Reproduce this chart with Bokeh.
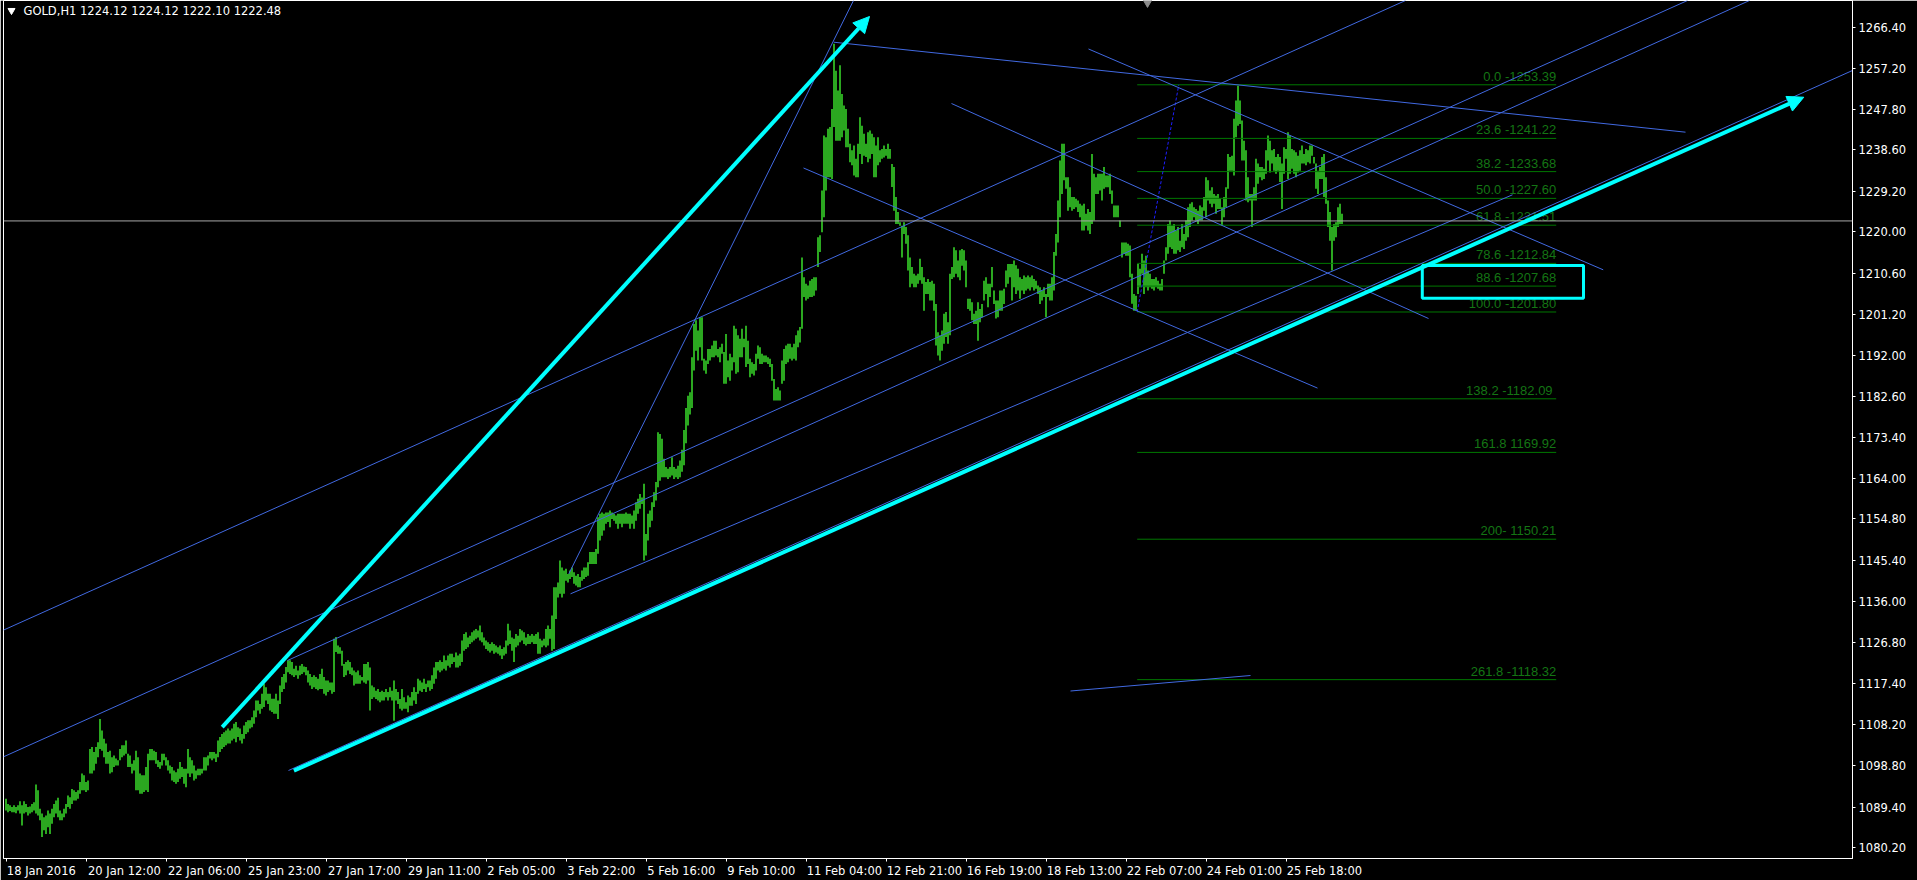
from bokeh.plotting import figure
from bokeh.models import (Range1d, FixedTicker, LinearAxis, Span, Arrow, NormalHead,
                          ColumnDataSource, NumeralTickFormatter)
from bokeh.embed import file_html
from bokeh.resources import INLINE
from bokeh.core.properties import value

# ---------------- data (GOLD, H1 bars: high / low) ----------------
highs = [
1091.3,1090.1,1089.8,1089.4,1089.8,1089.4,1089.8,1090.7,1089.8,1090.7,1090.1,1089.4,1089.5,1090.1,1090.5,1094.5,1093.2,1089.0,1087.9,1087.1,
1087.5,1088.6,1087.9,1089.0,1090.1,1090.9,1091.5,1088.6,1087.9,1089.0,1090.1,1092.0,1091.6,1093.5,1093.2,1092.8,1093.2,1095.1,1097.0,1096.6,
1095.1,1095.4,1102.6,1103.0,1101.9,1103.0,1104.1,1109.4,1106.8,1104.9,1103.8,1101.9,1102.2,1100.7,1101.1,1100.4,1100.0,1102.6,1103.4,1103.4,
1104.5,1101.5,1101.1,1099.2,1100.0,1102.2,1100.7,1097.0,1096.6,1096.6,1098.5,1101.5,1102.6,1102.6,1102.2,1101.9,1100.0,1099.6,1101.5,1101.5,
1100.7,1100.0,1098.8,1098.5,1097.7,1097.3,1098.1,1099.6,1098.5,1098.1,1098.1,1102.6,1100.7,1100.0,1098.8,1097.7,1098.1,1098.1,1098.1,1100.7,
1100.7,1101.1,1101.9,1101.9,1101.9,1101.5,1104.5,1105.3,1106.0,1106.4,1106.8,1107.2,1106.8,1107.2,1108.3,1108.7,1107.5,1107.2,1106.0,1107.9,
1108.7,1109.1,1109.1,1109.8,1111.3,1113.6,1113.6,1112.8,1115.1,1117.4,1116.6,1115.1,1115.1,1114.0,1114.0,1115.1,1113.6,1117.0,1118.9,1119.6,
1121.2,1122.7,1122.7,1122.3,1120.8,1121.5,1120.4,1121.5,1121.9,1121.3,1121.2,1120.4,1119.6,1118.9,1119.3,1118.9,1118.5,1119.6,1120.8,1118.9,
1118.1,1118.1,1117.7,1117.7,1127.6,1128.0,1126.1,1125.7,1124.9,1121.9,1122.3,1122.7,1122.3,1121.1,1120.4,1120.0,1120.4,1119.3,1118.9,1121.9,
1121.9,1122.3,1121.1,1117.0,1116.6,1115.8,1116.2,1115.5,1115.8,1115.5,1116.2,1115.5,1116.6,1115.8,1118.1,1116.2,1115.5,1113.9,1116.2,1114.3,
1113.2,1114.7,1114.3,1115.5,1116.6,1115.5,1118.5,1118.1,1117.7,1118.5,1117.4,1118.1,1118.1,1119.3,1121.1,1122.3,1122.3,1122.7,1122.3,1123.8,
1122.7,1123.8,1124.2,1124.2,1123.4,1124.5,1123.8,1124.2,1127.2,1128.7,1129.1,1127.9,1128.3,1129.1,1129.5,1129.8,1129.5,1130.6,1129.1,1127.9,
1127.2,1126.8,1126.4,1126.8,1126.4,1126.1,1125.7,1126.1,1125.3,1125.7,1127.2,1131.0,1129.5,1127.9,1127.6,1128.7,1128.3,1129.8,1129.5,1129.1,
1127.9,1128.7,1128.3,1128.7,1128.3,1128.7,1129.1,1127.6,1127.2,1127.6,1129.8,1130.6,1129.8,1132.9,1139.3,1139.3,1140.4,1145.4,1143.8,1143.1,
1143.5,1142.3,1143.1,1143.8,1142.7,1141.9,1142.3,1141.6,1143.1,1143.8,1143.8,1145.0,1147.3,1147.3,1147.3,1148.0,1155.2,1156.0,1156.3,1156.0,
1156.3,1156.3,1156.7,1156.3,1156.0,1155.6,1156.0,1156.0,1156.0,1156.0,1156.3,1156.0,1156.0,1155.6,1156.7,1158.6,1159.4,1160.5,1159.7,1162.8,
1151.4,1156.0,1156.7,1158.6,1160.9,1163.2,1174.5,1174.1,1173.0,1168.5,1166.6,1166.2,1166.6,1168.8,1166.6,1166.2,1166.9,1168.1,1170.5,1175.0,
1180.0,1182.8,1183.6,1191.5,1199.1,1199.9,1197.6,1200.6,1200.6,1191.2,1190.8,1193.4,1193.4,1194.2,1195.3,1195.3,1193.4,1193.8,1194.6,1192.7,
1196.8,1190.8,1192.3,1191.5,1198.7,1198.0,1196.5,1195.7,1198.0,1195.7,1198.7,1195.3,1191.2,1190.4,1190.0,1192.3,1194.2,1193.8,1192.3,1191.9,
1191.9,1191.5,1191.2,1190.0,1186.6,1184.3,1184.7,1184.0,1190.8,1193.4,1194.2,1194.6,1194.6,1193.8,1194.6,1196.5,1197.6,1198.4,1214.2,1209.7,
1208.2,1207.8,1208.9,1209.3,1209.7,1209.7,1218.8,1219.2,1229.4,1241.9,1241.5,1243.4,1243.8,1247.9,1262.7,1256.6,1252.1,1257.8,1251.3,1248.7,
1247.9,1243.4,1240.0,1238.5,1239.6,1236.6,1240.0,1246.0,1244.1,1242.3,1240.0,1242.6,1243.0,1242.3,1241.5,1239.6,1241.5,1238.5,1238.8,1239.6,
1238.8,1240.0,1238.8,1235.4,1234.7,1227.9,1224.5,1222.2,1221.4,1222.2,1221.1,1219.2,1214.2,1212.0,1210.5,1210.1,1210.5,1213.9,1212.0,1209.7,
1208.6,1209.3,1208.6,1208.9,1208.2,1203.6,1197.2,1196.5,1197.6,1201.4,1201.8,1199.5,1210.5,1212.0,1216.5,1215.8,1213.5,1215.8,1216.1,1215.8,
1213.5,1204.8,1204.8,1204.0,1201.4,1202.1,1204.0,1202.5,1203.6,1208.9,1209.7,1208.2,1208.2,1212.0,1206.7,1204.4,1204.4,1206.7,1206.7,1207.1,
1211.2,1212.7,1212.7,1212.7,1213.5,1212.4,1211.6,1209.7,1209.3,1210.1,1209.7,1210.1,1209.7,1210.1,1209.3,1208.9,1207.8,1207.4,1206.7,1207.4,
1205.9,1208.2,1208.2,1209.7,1215.4,1219.5,1227.1,1236.2,1240.0,1240.0,1232.4,1232.4,1230.1,1227.9,1227.9,1227.5,1227.1,1226.4,1226.0,1226.4,
1224.1,1225.2,1224.5,1237.7,1233.2,1232.4,1233.2,1233.2,1233.2,1234.7,1232.8,1232.8,1233.2,1229.4,1226.0,1226.0,1226.0,1222.6,1217.6,1217.6,
1217.6,1217.3,1216.9,1210.5,1205.9,1205.5,1212.7,1211.6,1215.0,1213.5,1214.6,1211.2,1210.5,1209.3,1209.3,1209.7,1208.9,1208.2,1209.3,1213.5,
1216.5,1221.8,1222.6,1221.4,1221.8,1220.3,1221.1,1218.0,1221.8,1219.5,1222.6,1225.6,1226.4,1226.7,1225.6,1225.2,1224.8,1226.0,1225.6,1227.9,
1232.4,1231.7,1229.4,1230.1,1228.6,1228.2,1228.6,1227.5,1225.6,1227.9,1230.1,1237.7,1237.0,1237.3,1245.7,1249.8,1253.2,1249.8,1245.3,1240.7,
1238.5,1232.4,1228.6,1228.6,1230.1,1236.6,1235.5,1234.7,1234.7,1234.3,1238.5,1241.9,1240.7,1238.5,1238.8,1237.0,1237.7,1237.0,1235.5,1239.2,
1238.8,1242.6,1241.9,1238.8,1238.5,1238.1,1237.3,1238.5,1239.6,1237.7,1238.8,1238.5,1239.6,1239.6,1237.0,1235.5,1233.9,1234.7,1237.0,1237.7,
1232.4,1227.1,1224.5,1221.1,1221.8,1222.2,1225.6,1226.4,1224.1,
]
lows = [
1088.6,1088.2,1088.5,1088.2,1088.2,1088.0,1088.6,1087.9,1085.2,1087.9,1088.2,1087.5,1087.9,1088.2,1088.6,1087.9,1087.5,1086.4,1082.6,1084.1,
1083.3,1084.8,1083.3,1085.6,1087.1,1087.9,1087.1,1086.4,1086.4,1087.1,1087.9,1089.4,1089.0,1090.1,1090.9,1090.9,1091.3,1092.4,1093.2,1093.2,
1092.8,1093.2,1097.0,1097.0,1097.7,1099.2,1100.7,1102.6,1102.2,1100.7,1099.2,1099.2,1097.0,1097.3,1098.5,1098.8,1098.8,1100.0,1100.7,1101.1,
1101.5,1098.5,1098.5,1097.0,1097.7,1093.2,1093.2,1092.4,1092.4,1092.8,1093.2,1092.8,1100.0,1100.0,1100.0,1099.2,1098.5,1098.1,1098.8,1100.0,
1098.8,1097.7,1097.0,1095.4,1095.1,1094.7,1095.1,1095.8,1096.2,1094.7,1093.9,1097.0,1096.2,1097.0,1095.4,1095.8,1096.6,1096.6,1097.0,1097.7,
1097.7,1098.8,1100.4,1100.0,1100.4,1099.6,1100.7,1101.9,1102.6,1103.0,1103.4,1103.8,1103.8,1104.5,1104.9,1104.1,1105.3,1104.5,1103.8,1104.9,
1106.0,1106.4,1107.2,1107.5,1108.3,1109.8,1111.3,1110.6,1111.7,1112.1,1113.6,1112.8,1111.3,1111.0,1110.6,1110.6,1109.4,1112.8,1115.5,1116.2,
1117.7,1120.0,1119.6,1119.3,1118.9,1119.3,1118.5,1119.3,1119.6,1120.0,1119.3,1117.7,1117.0,1116.2,1116.6,1116.2,1115.9,1116.2,1116.2,1115.1,
1114.7,1115.5,1115.9,1115.1,1115.5,1124.6,1124.2,1124.2,1121.5,1118.9,1119.3,1120.4,1119.6,1119.3,1117.0,1117.4,1117.4,1117.4,1118.1,1117.7,
1117.4,1118.1,1111.3,1113.9,1114.3,1113.9,1113.6,1113.2,1113.6,1113.6,1114.3,1113.6,1114.3,1113.6,1109.0,1113.6,1112.8,1111.7,1111.3,1111.7,
1111.7,1110.9,1112.4,1112.4,1113.6,1112.8,1115.1,1115.8,1115.5,1116.2,1115.5,1116.6,1115.8,1116.2,1117.4,1118.5,1120.4,1120.0,1120.4,1120.8,
1120.4,1121.5,1121.1,1121.9,1122.3,1121.1,1121.1,1121.5,1122.3,1124.9,1125.3,1125.7,1126.4,1126.8,1127.2,1127.6,1127.9,1127.2,1126.8,1126.1,
1125.3,1124.9,1124.5,1124.9,1124.2,1124.5,1124.2,1123.8,1123.0,1123.8,1124.2,1126.1,1126.4,1124.9,1122.3,1125.7,1126.1,1126.8,1127.2,1126.4,
1126.1,1126.4,1126.4,1126.8,1126.4,1126.4,1124.2,1124.2,1125.7,1126.1,1125.7,1126.1,1127.6,1124.9,1125.3,1132.1,1137.0,1137.8,1137.0,1137.8,
1140.8,1140.4,1141.2,1141.6,1140.1,1139.7,1139.3,1139.3,1140.8,1141.2,1141.6,1141.9,1144.6,1144.6,1144.6,1144.6,1146.9,1149.9,1151.0,1152.2,
1153.7,1154.1,1152.9,1154.8,1154.4,1153.7,1152.6,1153.7,1152.9,1153.7,1153.7,1153.7,1152.6,1153.7,1152.6,1154.4,1156.0,1157.1,1158.2,1145.4,
1146.5,1149.9,1152.9,1154.4,1157.5,1159.0,1162.0,1163.5,1164.3,1164.3,1164.3,1163.9,1164.3,1164.7,1163.9,1164.3,1163.9,1164.3,1165.5,1167.0,
1172.0,1176.0,1178.5,1180.0,1188.5,1193.0,1190.8,1193.8,1190.8,1188.5,1187.8,1190.0,1190.8,1191.5,1191.5,1191.9,1191.5,1190.4,1192.3,1185.5,
1185.5,1187.0,1186.2,1188.5,1190.4,1187.8,1188.1,1191.5,1191.5,1193.8,1189.3,1190.0,1187.0,1187.8,1187.4,1188.5,1191.2,1190.0,1190.0,1190.4,
1190.4,1190.0,1189.3,1186.2,1181.7,1181.7,1181.7,1181.7,1185.5,1186.2,1190.0,1190.4,1191.2,1190.8,1191.2,1190.8,1193.8,1194.9,1198.0,1205.2,
1204.4,1204.8,1205.2,1205.2,1205.5,1206.7,1212.0,1215.4,1219.9,1223.3,1229.4,1232.4,1232.4,1232.0,1243.8,1240.7,1240.7,1240.7,1241.5,1243.0,
1239.2,1239.2,1235.8,1235.1,1232.8,1232.4,1232.4,1237.7,1235.4,1237.3,1237.0,1235.8,1236.6,1237.7,1232.4,1232.4,1235.1,1235.8,1236.6,1236.9,
1237.3,1236.6,1236.6,1230.2,1224.8,1221.8,1221.8,1221.4,1214.2,1219.5,1217.3,1211.2,1207.4,1208.2,1207.4,1207.4,1208.2,1209.0,1208.2,1202.1,
1205.9,1205.9,1204.4,1204.4,1202.1,1194.2,1191.9,1190.8,1193.0,1194.6,1196.1,1194.6,1196.5,1209.3,1209.7,1210.5,1209.7,1209.0,1212.3,1211.2,
1207.4,1202.5,1202.1,1199.9,1199.1,1199.1,1195.3,1199.5,1200.6,1204.4,1205.9,1202.9,1205.2,1207.4,1203.6,1200.3,1200.6,1202.1,1202.1,1203.6,
1207.4,1208.2,1209.7,1204.4,1207.4,1205.9,1206.7,1204.8,1206.7,1205.9,1206.7,1207.1,1206.7,1207.4,1206.7,1207.1,1205.9,1203.6,1204.4,1205.2,
1200.6,1205.2,1204.4,1204.4,1206.7,1214.6,1217.6,1223.3,1228.6,1231.7,1229.8,1224.8,1225.6,1224.8,1225.2,1225.6,1224.5,1223.3,1220.3,1220.3,
1221.4,1220.3,1219.5,1221.8,1222.6,1228.6,1228.6,1229.4,1227.1,1229.8,1230.1,1230.1,1228.6,1226.4,1223.3,1223.3,1223.3,1221.1,1214.2,1215.0,
1214.6,1214.6,1209.7,1203.7,1202.1,1202.1,1205.9,1207.4,1210.5,1205.9,1207.4,1206.7,1207.4,1207.1,1206.7,1207.4,1207.1,1206.7,1206.7,1210.5,
1213.5,1215.0,1216.5,1216.1,1215.0,1215.0,1215.8,1215.4,1216.5,1216.1,1218.0,1218.8,1221.1,1222.6,1223.3,1222.6,1221.8,1222.6,1222.6,1224.8,
1223.3,1227.1,1226.4,1225.6,1226.4,1224.1,1225.2,1225.2,1221.4,1223.3,1225.6,1229.8,1233.9,1233.9,1232.8,1241.5,1244.1,1244.5,1236.2,1236.2,
1227.1,1226.7,1227.1,1221.1,1227.1,1227.1,1230.9,1232.4,1231.7,1232.0,1233.2,1236.2,1233.5,1235.5,1233.9,1233.2,1233.9,1231.3,1225.2,1233.2,
1236.6,1232.0,1233.2,1234.3,1233.2,1232.4,1233.5,1233.9,1235.5,1235.5,1235.1,1235.8,1235.5,1237.3,1235.5,1229.8,1228.6,1232.0,1232.0,1227.9,
1226.4,1221.1,1218.0,1211.2,1218.0,1218.8,1221.1,1221.8,1221.8,
]

# time axis: bar index of each labelled time, and the labels
x_tick_bars = [0, 40, 80, 120, 160, 200, 240, 280, 320, 360, 400, 440, 480, 520, 560, 600, 640]
x_tick_labels = ["18 Jan 2016", "20 Jan 12:00", "22 Jan 06:00", "25 Jan 23:00", "27 Jan 17:00",
                 "29 Jan 11:00", "2 Feb 05:00", "3 Feb 22:00", "5 Feb 16:00", "9 Feb 10:00",
                 "11 Feb 04:00", "12 Feb 21:00", "16 Feb 19:00", "18 Feb 13:00", "22 Feb 07:00",
                 "24 Feb 01:00", "25 Feb 18:00"]
y_ticks = [1266.40, 1257.20, 1247.80, 1238.60, 1229.20, 1220.00, 1210.60, 1201.20, 1192.00,
           1182.60, 1173.40, 1164.00, 1154.80, 1145.40, 1136.00, 1126.80, 1117.40, 1108.20,
           1098.80, 1089.40, 1080.20]

# Fibonacci retracement (anchored between bar 565.85 @1201.80 and bar 586.65 @1253.39)
fib_prices = [1253.39, 1241.22, 1233.68, 1227.60, 1221.51, 1212.84, 1207.68, 1201.80,
              1182.09, 1169.92, 1150.21, 1118.32]
fib_labels = ["0.0 -1253.39", "23.6 -1241.22", "38.2 -1233.68", "50.0 -1227.60", "61.8 -1221.51",
              "78.6 -1212.84", "88.6 -1207.68", "100.0 -1201.80", "138.2  -1182.09",
              "161.8 1169.92", "200- 1150.21", "261.8 -1118.32"]
fib_bar_from = 565.85
fib_bar_to = 775.35
fib_anchor_bars = [565.85, 586.65]
fib_anchor_prices = [1201.80, 1253.39]

# hand-drawn trend lines (bar index, price) start -> end
tl_x0 = [-1.0, -1.0, 141.0, 282.5, 141.5, 281.65, 414.15, 399.0, 473.0, 541.5, 532.5]
tl_y0 = [1129.57, 1100.80, 1122.67, 1137.81, 1097.69, 1142.35, 1263.06, 1234.50, 1249.14, 1261.52, 1115.74]
tl_x1 = [700.0, 841.0, 872.0, 753.5, 923.5, 424.0, 840.0, 656.0, 711.5, 798.85, 622.5]
tl_y1 = [1272.53, 1272.53, 1272.53, 1228.41, 1256.64, 1272.53, 1242.63, 1184.52, 1200.32, 1211.38, 1119.26]

# cyan arrows and box
arrow_x0 = [108.35, 144.2]
arrow_y0 = [1107.52, 1097.65]
arrow_x1 = [432.0, 899.15]
arrow_y1 = [1268.9, 1250.57]
box_left, box_right, box_bottom, box_top = 708.4, 789.0, 1204.93, 1212.36

last_price = 1222.48
header_text = "GOLD,H1  1224.12 1224.12 1222.10 1222.48"

# ---------------- figure ----------------
FONT = "DejaVu Sans"
BAR_GREEN = "#3ef02e"
BLUE = "#4169E1"
CYAN = "#00FFFF"

p = figure(width=1917, height=880, output_backend="svg", toolbar_location=None,
           x_range=Range1d(-1, 923.5), y_range=Range1d(1077.71, 1272.53),
           x_axis_location=None, y_axis_location=None,
           min_border_left=3, min_border_right=65, min_border_top=0, min_border_bottom=22)
p.background_fill_color = "black"
p.border_fill_color = "black"
p.outline_line_color = "white"
p.outline_line_width = 1
p.xgrid.grid_line_color = None
p.ygrid.grid_line_color = None

# right price axis
yax = LinearAxis(ticker=FixedTicker(ticks=y_ticks), formatter=NumeralTickFormatter(format="0.00"),
                 axis_line_color="white", major_tick_line_color="white", major_tick_out=3,
                 major_tick_in=0, minor_tick_line_color=None, major_label_text_color="white",
                 major_label_text_font=FONT, major_label_text_font_size="11.5px",
                 major_label_standoff=3)
p.add_layout(yax, "right")

# bottom time axis: tick marks
tick_pos = [b + 0.25 for b in x_tick_bars]
xtick_ax = LinearAxis(ticker=FixedTicker(ticks=tick_pos), axis_line_color="white",
                      major_tick_line_color="white", major_tick_out=3, major_tick_in=0,
                      minor_tick_line_color=None, major_label_text_font_size="1px",
                      major_label_text_alpha=0, major_label_standoff=0)
p.add_layout(xtick_ax, "below")
# bottom time axis: labels, left aligned to the tick (MT4 style)
label_centers = [t + (1.5 + 6.15 * len(s) / 2.0) / 2.0 for t, s in zip(tick_pos, x_tick_labels)]
xlab_ax = LinearAxis(ticker=FixedTicker(ticks=label_centers),
                     major_label_overrides={c: s for c, s in zip(label_centers, x_tick_labels)},
                     axis_line_color=None, major_tick_line_color=None, minor_tick_line_color=None,
                     major_tick_out=0, major_tick_in=0, major_label_text_color="white",
                     major_label_text_font=FONT, major_label_text_font_size="11.5px",
                     major_label_standoff=2)
p.add_layout(xlab_ax, "below")

# bars
bars = ColumnDataSource(dict(x=[i + 0.25 for i in range(len(highs))], high=highs, low=lows))
p.segment(x0="x", y0="low", x1="x", y1="high", source=bars, line_color=BAR_GREEN, line_width=1.4)

# fibonacci levels
n = len(fib_prices)
p.segment(x0=[fib_bar_from] * n, y0=fib_prices, x1=[fib_bar_to] * n, y1=fib_prices,
          line_color="#007800", line_width=1)
p.text(x=[fib_bar_to] * n, y=fib_prices, text=fib_labels, text_align="right",
       text_baseline="bottom", y_offset=-1, text_font=value("Liberation Sans"),
       text_font_size="13px", text_color="#147514")
p.line(x=fib_anchor_bars, y=fib_anchor_prices, line_color="#1e1eff", line_width=1, line_dash="3 2")

# current price line
p.add_layout(Span(location=last_price, dimension="width", line_color="#a8a8a8", line_width=1))

# trend lines
p.segment(x0=tl_x0, y0=tl_y0, x1=tl_x1, y1=tl_y1, line_color=BLUE, line_width=1)

# cyan box and arrows
p.quad(left=[box_left], right=[box_right], bottom=[box_bottom], top=[box_top],
       fill_color=None, line_color=CYAN, line_width=3)
for xa, ya, xb, yb in zip(arrow_x0, arrow_y0, arrow_x1, arrow_y1):
    p.add_layout(Arrow(end=NormalHead(size=16, fill_color=CYAN, line_color=CYAN, line_width=1),
                       x_start=xa, y_start=ya, x_end=xb, y_end=yb,
                       line_color=CYAN, line_width=4))

# header
p.scatter(x=[3], y=[1270.26], marker="inverted_triangle", size=7, color="white")
p.text(x=[9], y=[1270.15], text=[header_text], text_baseline="middle", text_align="left",
       text_font=value(FONT), text_font_size="11.5px", text_color="white")
# chart shift marker
p.scatter(x=[571], y=[1272.53], marker="inverted_triangle", size=12, color="#8c8c8c")

open("out.html", "w").write(file_html(p, INLINE))
